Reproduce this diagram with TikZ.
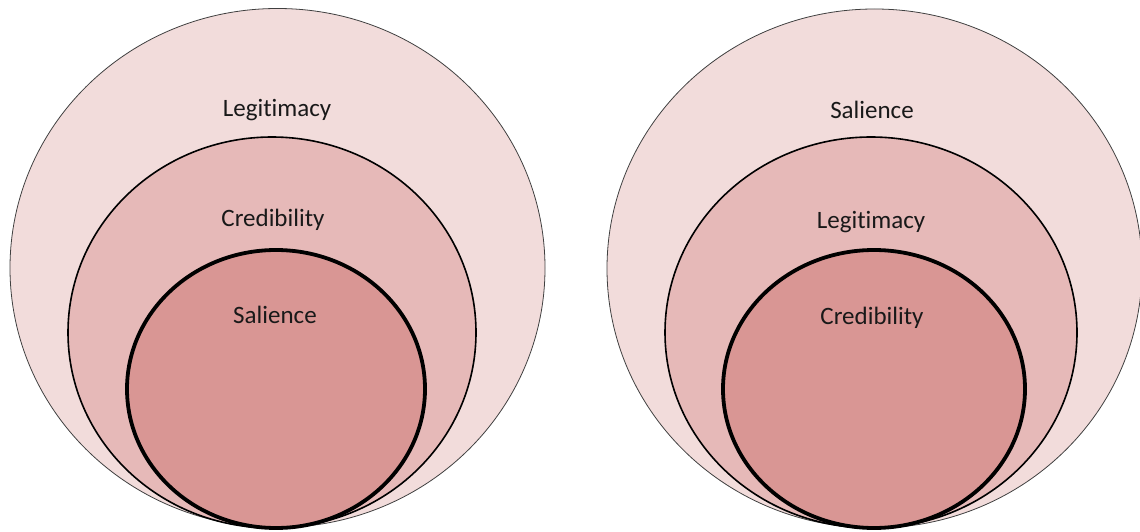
\documentclass[tikz,border=0pt]{standalone}
\usepackage{fontspec}
\setmainfont[Ligatures=CommonOff]{Carlito}
\usetikzlibrary{shapes.geometric}

\definecolor{pinkOuter}{HTML}{F2DCDB}
\definecolor{pinkMid}{HTML}{E6B9B8}
\definecolor{pinkInner}{HTML}{D99694}

\begin{document}
\begin{tikzpicture}[
    x = 1pt, y = 1pt, % one unit per pixel of the picture
    inner sep = 0pt,
    outer sep = 0pt,
    font = \fontsize{25}{30}\selectfont
  ]

  \tikzstyle{ring}=[ellipse, inner sep=0pt, outer sep=0pt]
  \tikzstyle{outerring}=[ring, fill=pinkOuter, draw=black!75, line width=0.8pt]
  \tikzstyle{midring}=[ring, fill=pinkMid, draw=black, line width=1.6pt]
  \tikzstyle{innerring}=[ring, fill=pinkInner, draw=black, line width=3.8pt]
  \tikzstyle{lbl}=[text=black!90]

  \useasboundingbox (0,0) rectangle (1140,531);

  % left set
  \node[outerring, minimum width=535pt, minimum height=519pt] (lout) at (277.5,263) {};
  \node[midring, minimum width=408pt, minimum height=391pt] (lmid) at (272,198.5) {};
  \node[innerring, minimum width=298pt, minimum height=278pt] (lin) at (276,142) {};

  \node[lbl] (lleg) at (277,421) {Legitimacy};
  \node[lbl] (lcred) at (273,311) {Credibility};
  \node[lbl] (lsal) at (275,216) {Salience};

  % right set
  \node[outerring, minimum width=535pt, minimum height=519pt] (rout) at (874.5,262.5) {};
  \node[midring, minimum width=412pt, minimum height=391pt] (rmid) at (871,198.5) {};
  \node[innerring, minimum width=302pt, minimum height=278pt] (rin) at (874,142) {};

  \node[lbl] (rsal) at (872,421) {Salience};
  \node[lbl] (rleg) at (871,309) {Legitimacy};
  \node[lbl] (rcred) at (872,213) {Credibility};

\end{tikzpicture}
\end{document}
